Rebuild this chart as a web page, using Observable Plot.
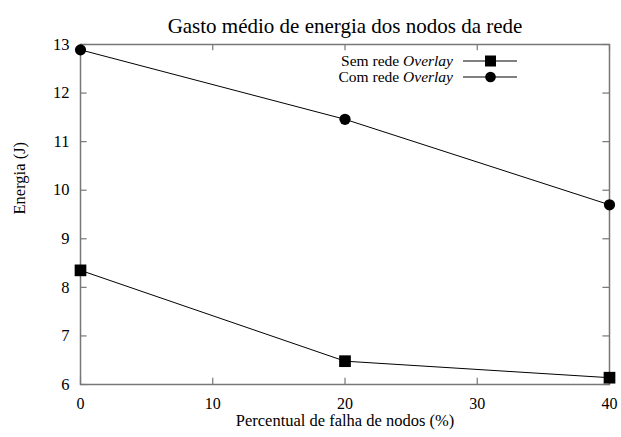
<!DOCTYPE html>
<html><head><meta charset="utf-8">
<script src="https://cdn.jsdelivr.net/npm/d3@7"></script>
<script src="https://cdn.jsdelivr.net/npm/@observablehq/plot@0.6"></script>
<style>
body{margin:0;background:#fff;}
#wrap{position:relative;width:621px;height:437px;font-family:"Liberation Serif","DejaVu Serif",serif;}
#legend{position:absolute;right:104px;top:53px;font-size:15.5px;line-height:16px;}
.row{display:flex;align-items:center;justify-content:flex-end;height:16px;}
.row span{display:block;height:16px;line-height:16px;}
.row svg{margin-left:10px;}
</style>
</head><body><div id="wrap"><div id="legend"></div></div>
<script>
const failure = [0, 20, 40];
const semOverlay = [8.35, 6.48, 6.14];
const comOverlay = [12.89, 11.46, 9.70];
const seriesNames = ["Sem rede", "Com rede"];
const xTicks = [0, 10, 20, 30, 40];
const yTicks = [6, 7, 8, 9, 10, 11, 12, 13];
const title = "Gasto médio de energia dos nodos da rede";
const xLabel = "Percentual de falha de nodos (%)";
const yLabel = "Energia (J)";

const sem = failure.map((x, i) => ({x, y: semOverlay[i]}));
const com = failure.map((x, i) => ({x, y: comOverlay[i]}));
const frameColor = "#777";

const chart = Plot.plot({
  width: 621, height: 437,
  marginLeft: 80, marginRight: 12, marginTop: 44, marginBottom: 53,
  style: {fontFamily: '"Liberation Serif", serif', fontSize: "17px", color: "#000", background: "#fff"},
  x: {domain: [0, 40], ticks: xTicks},
  y: {domain: [6, 13], ticks: yTicks},
  marks: [
    Plot.axisX(xTicks, {tickSize: 0, tickPadding: 13, fontSize: 16, label: null}),
    Plot.axisY(yTicks, {tickSize: 0, tickPadding: 11, fontSize: 16.5, label: null}),
    Plot.text([xLabel], {frameAnchor: "bottom", dy: 41, fontSize: 16.5, fill: "#000"}),
    Plot.text([yLabel], {frameAnchor: "left", dx: -61, rotate: -90, fontSize: 16.5, fill: "#000"}),
    Plot.ruleX(xTicks, {y1: 6, y2: 6.13, stroke: frameColor, strokeWidth: 1.2}),
    Plot.ruleX(xTicks, {y1: 13, y2: 12.87, stroke: frameColor, strokeWidth: 1.2}),
    Plot.ruleY(yTicks, {x1: 0, x2: 0.5, stroke: frameColor, strokeWidth: 1.2}),
    Plot.ruleY(yTicks, {x1: 40, x2: 39.5, stroke: frameColor, strokeWidth: 1.2}),
    Plot.frame({stroke: frameColor, strokeWidth: 1.5}),
    Plot.line(sem, {x: "x", y: "y", stroke: "#000", strokeWidth: 1}),
    Plot.line(com, {x: "x", y: "y", stroke: "#000", strokeWidth: 1}),
    Plot.dot(sem, {x: "x", y: "y", symbol: "square", r: 6.6, fill: "#000", stroke: "none"}),
    Plot.dot(com, {x: "x", y: "y", symbol: "circle", r: 5.6, fill: "#000", stroke: "none"}),
    Plot.text([title], {frameAnchor: "top", dy: -26, fontSize: 21, fill: "#000"})
  ]
});
document.getElementById("wrap").prepend(chart);

const legend = document.getElementById("legend");
const sym = ["sq", "ci"];
seriesNames.forEach((n, i) => {
  const row = document.createElement("div");
  row.className = "row";
  const marker = sym[i] === "sq"
    ? '<rect x="22" y="2.5" width="11" height="11" fill="#000"/>'
    : '<circle cx="27.5" cy="8" r="5.3" fill="#000"/>';
  row.innerHTML = `<span>${n} <i>Overlay</i></span><svg width="54" height="16"><line x1="0" x2="54" y1="8" y2="8" stroke="#000" stroke-width="1"/>${marker}</svg>`;
  legend.appendChild(row);
});
</script></body></html>
